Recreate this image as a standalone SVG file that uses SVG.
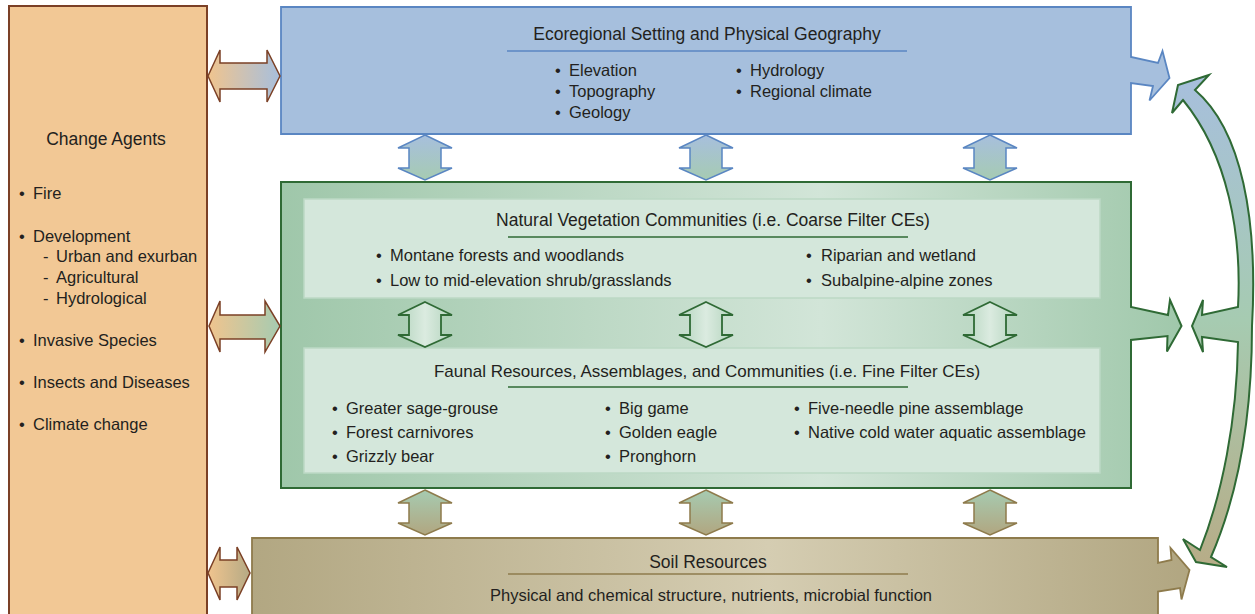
<svg xmlns="http://www.w3.org/2000/svg" xmlns:xlink="http://www.w3.org/1999/xlink" width="1255" height="614" viewBox="0 0 1255 614">
<style>
text{font-family:"Liberation Sans",Arial,sans-serif;fill:#231f20;}
.title{font-size:17.5px;text-anchor:middle;}
.item{font-size:16.5px;}
.inner{fill:#d4e7db;stroke:#bcd9c5;stroke-width:1.5;}
</style>
<defs>
<linearGradient id="gGreen" x1="0" y1="0" x2="1" y2="0">
<stop offset="0" stop-color="#9fc7aa"/><stop offset="0.6" stop-color="#d2e5d8"/><stop offset="1" stop-color="#a0c8ab"/>
</linearGradient>
<linearGradient id="gSoil" x1="0" y1="0" x2="1" y2="0">
<stop offset="0" stop-color="#b2a782"/><stop offset="0.55" stop-color="#d5cdb2"/><stop offset="1" stop-color="#b1a681"/>
</linearGradient>
<linearGradient id="gTanBlue" x1="0" y1="0" x2="1" y2="0">
<stop offset="0" stop-color="#f0c48e"/><stop offset="1" stop-color="#a7bfdd"/>
</linearGradient>
<linearGradient id="gTanGreen" x1="0" y1="0" x2="1" y2="0">
<stop offset="0" stop-color="#f0c48e"/><stop offset="1" stop-color="#a6cbb1"/>
</linearGradient>
<linearGradient id="gTanSoil" x1="0" y1="0" x2="1" y2="0">
<stop offset="0" stop-color="#f0c48e"/><stop offset="1" stop-color="#b5aa85"/>
</linearGradient>
<linearGradient id="gBlueGreen" x1="0" y1="0" x2="0" y2="1">
<stop offset="0" stop-color="#a7bfdd"/><stop offset="1" stop-color="#a6cbb2"/>
</linearGradient>
<linearGradient id="gMint" x1="0" y1="0" x2="1" y2="0">
<stop offset="0" stop-color="#b3d4bd"/><stop offset="0.5" stop-color="#dbebe0"/><stop offset="1" stop-color="#b3d4bd"/>
</linearGradient>
<linearGradient id="gGreenSoil" x1="0" y1="0" x2="0" y2="1">
<stop offset="0" stop-color="#a6cbb1"/><stop offset="1" stop-color="#b1a680"/>
</linearGradient>
<linearGradient id="gArc" x1="0" y1="0" x2="0" y2="1">
<stop offset="0" stop-color="#a7bfdd"/><stop offset="0.5" stop-color="#a6cbb1"/><stop offset="1" stop-color="#b7ac87"/>
</linearGradient>
<path id="varrow" d="M0,0 L27,13 L16,13 L16,33 L27,33 L0,45 L-27,33 L-16,33 L-16,13 L-27,13 Z"/>
</defs>

<g id="change-agents">
<rect x="9" y="6" width="198" height="612" fill="#f2c895" stroke="#7b4026" stroke-width="2"/>
<text class="title" x="106" y="145">Change Agents</text>
<text class="item"><tspan x="19" y="199">•</tspan><tspan x="33" y="199">Fire</tspan></text>
<text class="item"><tspan x="19" y="242">•</tspan><tspan x="33" y="242">Development</tspan></text>
<text class="item"><tspan x="43" y="262">-</tspan><tspan x="56" y="262">Urban and exurban</tspan></text>
<text class="item"><tspan x="43" y="283">-</tspan><tspan x="56" y="283">Agricultural</tspan></text>
<text class="item"><tspan x="43" y="304">-</tspan><tspan x="56" y="304">Hydrological</tspan></text>
<text class="item"><tspan x="19" y="346">•</tspan><tspan x="33" y="346">Invasive Species</tspan></text>
<text class="item"><tspan x="19" y="388">•</tspan><tspan x="33" y="388">Insects and Diseases</tspan></text>
<text class="item"><tspan x="19" y="430">•</tspan><tspan x="33" y="430">Climate change</tspan></text>
</g>

<g id="ecoregional">
<path d="M281,7 H1131 V57 L1158,63 L1162.5,51 L1169.5,78 L1149.5,100.5 L1153,86 L1131,83 V134 H281 Z" fill="#a6bfdd" stroke="#5a86c2" stroke-width="1.8" stroke-linejoin="miter"/>
<text class="title" x="707" y="40">Ecoregional Setting and Physical Geography</text>
<line x1="507" y1="51" x2="907" y2="51" stroke="#5a86c2" stroke-width="1.5"/>
<text class="item"><tspan x="555" y="76">•</tspan><tspan x="569" y="76">Elevation</tspan></text>
<text class="item"><tspan x="555" y="97">•</tspan><tspan x="569" y="97">Topography</tspan></text>
<text class="item"><tspan x="555" y="118">•</tspan><tspan x="569" y="118">Geology</tspan></text>
<text class="item"><tspan x="736" y="76">•</tspan><tspan x="750" y="76">Hydrology</tspan></text>
<text class="item"><tspan x="736" y="97">•</tspan><tspan x="750" y="97">Regional climate</tspan></text>
</g>

<g id="biotic">
<path d="M281,182 H1131 V307 L1168,315 L1170,300 L1181.5,326 L1167,351.5 L1167.5,336 L1131,340 V488 H281 Z" fill="url(#gGreen)" stroke="#2f6a35" stroke-width="2"/>
</g>

<g id="vegetation">
<rect class="inner" x="304" y="199" width="796" height="99"/>
<text class="title" x="713" y="226">Natural Vegetation Communities (i.e. Coarse Filter CEs)</text>
<line x1="508" y1="237" x2="908" y2="237" stroke="#2f6a35" stroke-width="1.5"/>
<text class="item"><tspan x="376" y="261">•</tspan><tspan x="390" y="261">Montane forests and woodlands</tspan></text>
<text class="item"><tspan x="376" y="286">•</tspan><tspan x="390" y="286">Low to mid-elevation shrub/grasslands</tspan></text>
<text class="item"><tspan x="806" y="261">•</tspan><tspan x="821" y="261">Riparian and wetland</tspan></text>
<text class="item"><tspan x="806" y="286">•</tspan><tspan x="821" y="286">Subalpine-alpine zones</tspan></text>
</g>

<g id="faunal">
<rect class="inner" x="304" y="348" width="796" height="125"/>
<text class="title" x="707" y="377" style="font-size:17px">Faunal Resources, Assemblages, and Communities (i.e. Fine Filter CEs)</text>
<line x1="508" y1="387" x2="908" y2="387" stroke="#2f6a35" stroke-width="1.5"/>
<text class="item"><tspan x="332" y="414">•</tspan><tspan x="346" y="414">Greater sage-grouse</tspan></text>
<text class="item"><tspan x="332" y="438">•</tspan><tspan x="346" y="438">Forest carnivores</tspan></text>
<text class="item"><tspan x="332" y="462">•</tspan><tspan x="346" y="462">Grizzly bear</tspan></text>
<text class="item"><tspan x="605" y="414">•</tspan><tspan x="619" y="414">Big game</tspan></text>
<text class="item"><tspan x="605" y="438">•</tspan><tspan x="619" y="438">Golden eagle</tspan></text>
<text class="item"><tspan x="605" y="462">•</tspan><tspan x="619" y="462">Pronghorn</tspan></text>
<text class="item"><tspan x="794" y="414">•</tspan><tspan x="808" y="414">Five-needle pine assemblage</tspan></text>
<text class="item"><tspan x="794" y="438">•</tspan><tspan x="808" y="438">Native cold water aquatic assemblage</tspan></text>
</g>

<g id="soil">
<path d="M252,538 H1158 V563 L1171.5,560 L1170.5,548 L1189.5,570 L1181.5,599.5 L1180,588 L1158,591.5 V618 H252 Z" fill="url(#gSoil)" stroke="#8e7b4c" stroke-width="1.8"/>
<text class="title" x="708" y="568">Soil Resources</text>
<line x1="508" y1="574" x2="908" y2="574" stroke="#8e7b4c" stroke-width="1.5"/>
<text class="item" x="711" y="601" text-anchor="middle">Physical and chemical structure, nutrients, microbial function</text>
</g>

<g id="connectors">
<path d="M208,76 L220,50 L220,63 L267,63 L267,50 L280,76 L267,102 L267,89 L220,89 L220,102 Z" fill="url(#gTanBlue)" stroke="#7b4026" stroke-width="1.5"/>
<path d="M209,326 L220,301 L220,315 L265,315 L265,301 L280,326 L265,352 L265,339 L220,339 L220,352 Z" fill="url(#gTanGreen)" stroke="#7b4026" stroke-width="1.5"/>
<path d="M208,573 L220,547 L220,560 L237,560 L237,547 L250,573 L237,600 L237,587 L220,587 L220,600 Z" fill="url(#gTanSoil)" stroke="#7b4026" stroke-width="1.5"/>

<use xlink:href="#varrow" href="#varrow" x="425" y="135" fill="url(#gBlueGreen)" stroke="#5a86c2" stroke-width="1.5"/>
<use xlink:href="#varrow" href="#varrow" x="706" y="135" fill="url(#gBlueGreen)" stroke="#5a86c2" stroke-width="1.5"/>
<use xlink:href="#varrow" href="#varrow" x="990" y="135" fill="url(#gBlueGreen)" stroke="#5a86c2" stroke-width="1.5"/>

<use xlink:href="#varrow" href="#varrow" x="425" y="302" fill="url(#gMint)" stroke="#2f6a35" stroke-width="1.8"/>
<use xlink:href="#varrow" href="#varrow" x="706" y="302" fill="url(#gMint)" stroke="#2f6a35" stroke-width="1.8"/>
<use xlink:href="#varrow" href="#varrow" x="990" y="302" fill="url(#gMint)" stroke="#2f6a35" stroke-width="1.8"/>

<use xlink:href="#varrow" href="#varrow" x="425" y="490" fill="url(#gGreenSoil)" stroke="#8e7b4c" stroke-width="1.5"/>
<use xlink:href="#varrow" href="#varrow" x="706" y="490" fill="url(#gGreenSoil)" stroke="#8e7b4c" stroke-width="1.5"/>
<use xlink:href="#varrow" href="#varrow" x="990" y="490" fill="url(#gGreenSoil)" stroke="#8e7b4c" stroke-width="1.5"/>

<path d="M1183,100 L1172,113 L1178,85 L1209,75 L1195,90 C1242,130 1258,220 1252,326 C1252,420 1238,495 1211,557 L1227,567 L1196,562 L1183,539 L1200,550 C1222,495 1237,420 1238,342 L1202,337 L1203,352 L1192,326 L1203,300 L1202,315 L1238,307 C1242,235 1228,155 1183,100 Z" fill="url(#gArc)" stroke="#2f6a35" stroke-width="2" stroke-linejoin="miter"/>
</g>
</svg>
